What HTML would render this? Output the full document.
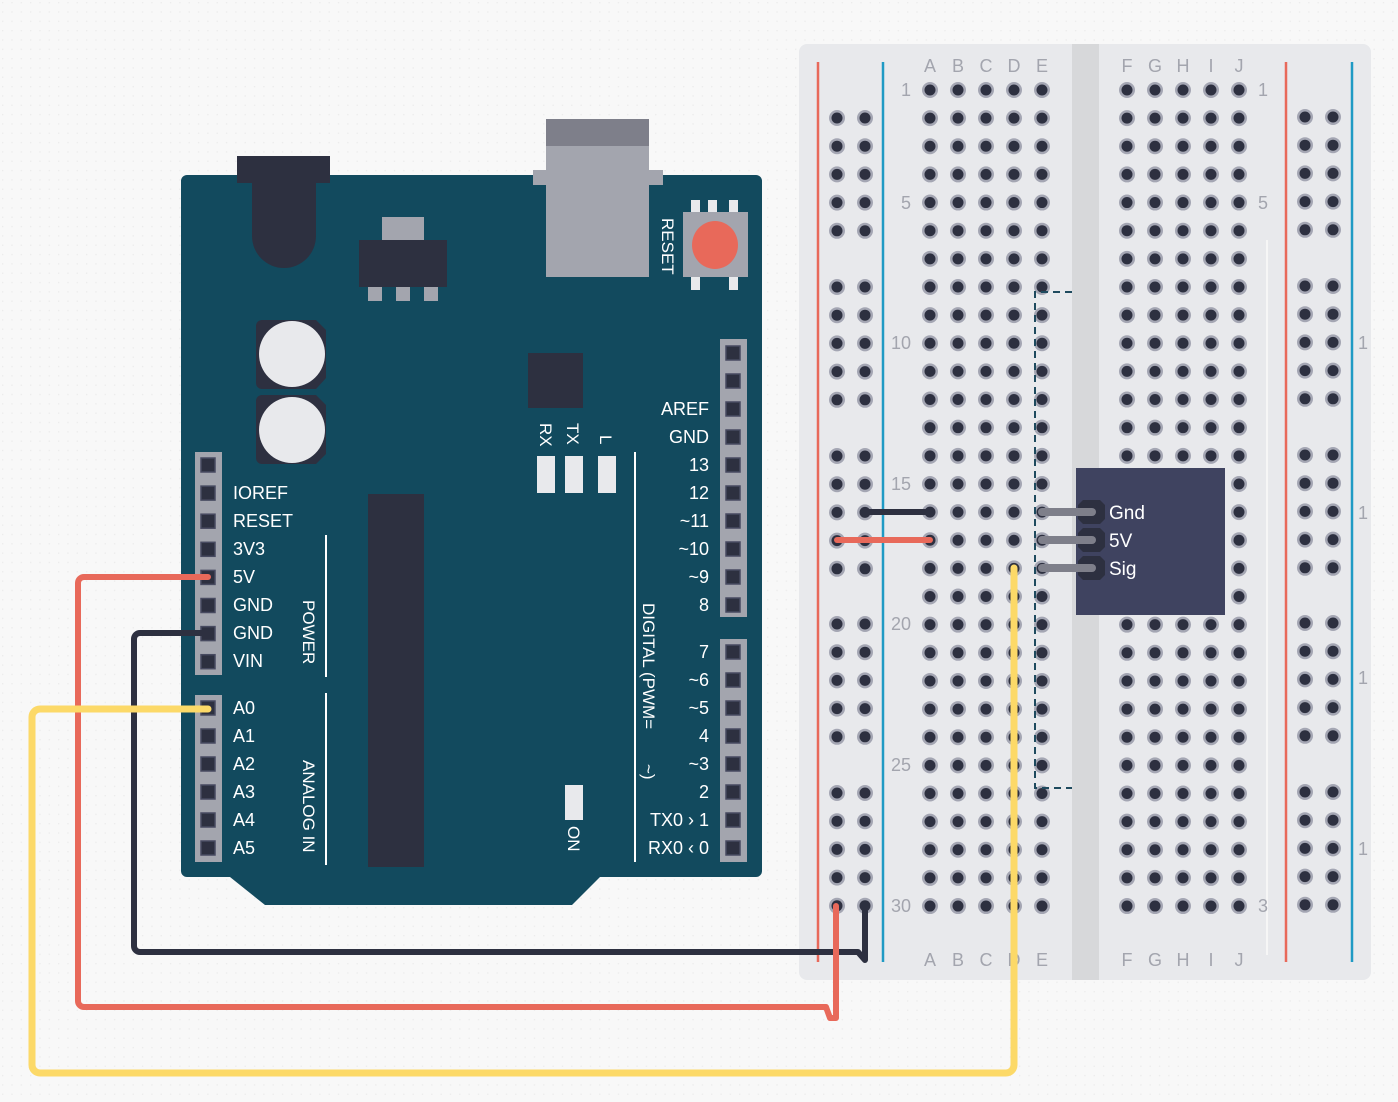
<!DOCTYPE html>
<html><head><meta charset="utf-8"><style>
html,body{margin:0;padding:0;background:#f8f8f8}
svg{display:block}
text{font-family:"Liberation Sans",sans-serif}
</style></head><body>
<svg id="s" width="1398" height="1102" viewBox="0 0 1398 1102" xmlns="http://www.w3.org/2000/svg">
<defs>
<pattern id="dots" width="9.33" height="9.33" patternUnits="userSpaceOnUse"><rect x="2" y="2" width="1.3" height="1.3" fill="#ebebeb"/></pattern>
</defs>
<rect width="1398" height="1102" fill="#f8f8f8"/>
<rect width="1398" height="1102" fill="url(#dots)"/>

<!-- Breadboard -->
<rect x="799" y="44" width="572" height="936" rx="8" fill="#e8e9ec"/>
<rect x="1072" y="44" width="27" height="936" fill="#d7d8da"/>
<line x1="1267" y1="240" x2="1267" y2="955" stroke="#fafafa" stroke-width="1.5"/>
<line x1="818" y1="62" x2="818" y2="962" stroke="#e8695a" stroke-width="2.5"/>
<line x1="883" y1="62" x2="883" y2="962" stroke="#1f9ac4" stroke-width="2.5"/>
<line x1="1286" y1="62" x2="1286" y2="962" stroke="#e8695a" stroke-width="2.5"/>
<line x1="1352" y1="62" x2="1352" y2="962" stroke="#1f9ac4" stroke-width="2.5"/>
<g id="holes"></g>
<g fill="#a3a5ae" font-size="18" text-anchor="middle">
<text x="930" y="72">A</text><text x="958" y="72">B</text><text x="986" y="72">C</text><text x="1014" y="72">D</text><text x="1042" y="72">E</text>
<text x="1127" y="72">F</text><text x="1155" y="72">G</text><text x="1183" y="72">H</text><text x="1211" y="72">I</text><text x="1239" y="72">J</text>
<text x="930" y="966">A</text><text x="958" y="966">B</text><text x="986" y="966">C</text><text x="1014" y="966">D</text><text x="1042" y="966">E</text>
<text x="1127" y="966">F</text><text x="1155" y="966">G</text><text x="1183" y="966">H</text><text x="1211" y="966">I</text><text x="1239" y="966">J</text>
</g>
<g fill="#a3a5ae" font-size="18" text-anchor="end">
<text x="911" y="96">1</text><text x="911" y="209">5</text><text x="911" y="349">10</text><text x="911" y="490">15</text><text x="911" y="630">20</text><text x="911" y="771">25</text><text x="911" y="912">30</text>
</g>
<g fill="#a3a5ae" font-size="18">
<text x="1258" y="96">1</text><text x="1258" y="209">5</text><text x="1258" y="912">3</text>
<text x="1358" y="349">1</text><text x="1358" y="519">1</text><text x="1358" y="684">1</text><text x="1358" y="855">1</text>
</g>

<!-- dashed rect -->
<path d="M1072 292 H1035 V788 H1072" fill="none" stroke="#1e4a5e" stroke-width="2" stroke-dasharray="7,5"/>

<!-- sensor -->
<rect x="1076" y="468" width="149" height="147" fill="#3f4360"/>
<g fill="#2d3040">
<path d="M1083 500 h17 l5 5 v14 l-5 5 h-17 l-5 -5 v-14z"/>
<path d="M1083 528 h17 l5 5 v14 l-5 5 h-17 l-5 -5 v-14z"/>
<path d="M1083 556 h17 l5 5 v14 l-5 5 h-17 l-5 -5 v-14z"/>
</g>
<g stroke="#7e7f8a" stroke-width="8" stroke-linecap="round">
<line x1="1042" y1="512" x2="1092" y2="512"/><line x1="1042" y1="540" x2="1092" y2="540"/><line x1="1042" y1="568" x2="1092" y2="568"/>
</g>
<g fill="#fff" font-size="19"><text x="1109" y="519">Gnd</text><text x="1109" y="547">5V</text><text x="1109" y="575">Sig</text></g>

<!-- Arduino -->
<path d="M187 175 H756 a6 6 0 0 1 6 6 V871 a6 6 0 0 1 -6 6 H600 L572 905 H265 L230 877 H187 a6 6 0 0 1 -6 -6 V181 a6 6 0 0 1 6 -6z" fill="#124a5e"/>
<rect x="237" y="156" width="93" height="27" fill="#2d3040"/>
<path d="M252 183 H316 V236 a32 32 0 0 1 -64 0z" fill="#2d3040"/>
<rect x="533" y="170" width="130" height="15" fill="#a3a5ae"/>
<rect x="546" y="145" width="103" height="132" fill="#a3a5ae"/>
<rect x="546" y="119" width="103" height="27" fill="#7e7f8a"/>
<rect x="382" y="217" width="42" height="23" fill="#a3a5ae"/>
<rect x="359" y="240" width="88" height="47" fill="#2d3040"/>
<g fill="#a3a5ae"><rect x="368" y="287" width="14" height="14"/><rect x="396" y="287" width="14" height="14"/><rect x="424" y="287" width="14" height="14"/></g>
<g fill="#e8e9ec"><rect x="691" y="200" width="9" height="13"/><rect x="708" y="200" width="9" height="13"/><rect x="729" y="200" width="9" height="13"/><rect x="691" y="276" width="9" height="14"/><rect x="729" y="276" width="9" height="14"/></g>
<rect x="683" y="212" width="65" height="65" fill="#a3a5ae"/>
<ellipse cx="715" cy="245" rx="23" ry="24" fill="#e8695a"/>
<text transform="translate(662,218) rotate(90)" fill="#fff" font-size="17">RESET</text>
<path d="M262 320 H316 L326 330 V378 L316 389 H262 a6 6 0 0 1 -6 -6 V326 a6 6 0 0 1 6 -6z" fill="#2d3040"/>
<circle cx="292" cy="354" r="33" fill="#e8e9ec"/>
<path d="M262 395 H316 L326 405 V454 L316 464 H262 a6 6 0 0 1 -6 -6 V401 a6 6 0 0 1 6 -6z" fill="#2d3040"/>
<circle cx="292" cy="430" r="33" fill="#e8e9ec"/>
<rect x="528" y="353" width="55" height="55" fill="#2d3040"/>
<g fill="#fff" font-size="17">
<text transform="translate(540,423) rotate(90)">RX</text>
<text transform="translate(567,423) rotate(90)">TX</text>
<text transform="translate(600,435) rotate(90)">L</text>
<text transform="translate(568,826) rotate(90)">ON</text>
<text transform="translate(643,603) rotate(90)">DIGITAL (PWM=</text>
<text transform="translate(643,764) rotate(90)">~)</text>
<text transform="translate(303,600) rotate(90)">POWER</text>
<text transform="translate(303,760) rotate(90)">ANALOG IN</text>
</g>
<g fill="#e8e9ec"><rect x="537" y="456" width="18" height="37"/><rect x="565" y="456" width="18" height="37"/><rect x="598" y="456" width="18" height="37"/><rect x="565" y="785" width="18" height="35"/></g>
<g stroke="#fff" stroke-width="2"><line x1="635" y1="452" x2="635" y2="862"/><line x1="326" y1="535" x2="326" y2="677"/><line x1="326" y1="693" x2="326" y2="865"/></g>
<rect x="368" y="494" width="56" height="373" fill="#2d3040"/>
<g fill="#a3a5ae"><rect x="195" y="452" width="27" height="223"/><rect x="195" y="695" width="27" height="167"/><rect x="720" y="339" width="27" height="278"/><rect x="720" y="639" width="27" height="223"/></g>
<g id="pins"></g>
<g fill="#fff" font-size="18">
<text x="233" y="499">IOREF</text><text x="233" y="527">RESET</text><text x="233" y="555">3V3</text><text x="233" y="583">5V</text><text x="233" y="611">GND</text><text x="233" y="639">GND</text><text x="233" y="667">VIN</text>
<text x="233" y="714">A0</text><text x="233" y="742">A1</text><text x="233" y="770">A2</text><text x="233" y="798">A3</text><text x="233" y="826">A4</text><text x="233" y="854">A5</text>
</g>
<g fill="#fff" font-size="18" text-anchor="end">
<text x="709" y="415">AREF</text><text x="709" y="443">GND</text><text x="709" y="471">13</text><text x="709" y="499">12</text><text x="709" y="527">~11</text><text x="709" y="555">~10</text><text x="709" y="583">~9</text><text x="709" y="611">8</text>
<text x="709" y="658">7</text><text x="709" y="686">~6</text><text x="709" y="714">~5</text><text x="709" y="742">4</text><text x="709" y="770">~3</text><text x="709" y="798">2</text><text x="709" y="826">TX0 › 1</text><text x="709" y="854">RX0 ‹ 0</text>
</g>

<!-- wires -->
<g fill="none" stroke-linecap="round" stroke-linejoin="round" stroke-width="6">
<path d="M865 512 H930" stroke="#2d3040"/>
<path d="M837 540 H930" stroke="#e8695a"/>
<path d="M208 633 H140 a6 6 0 0 0 -6 6 V946 a6 6 0 0 0 6 6 H858 L865 960 V906" stroke="#2d3040"/>
<path d="M208 577 H84 a6 6 0 0 0 -6 6 V1001 a6 6 0 0 0 6 6 H826 L830 1018 H836 V906" stroke="#e8695a"/>
<path d="M1014 568 V1065 a8 8 0 0 1 -8 8 H40 a8 8 0 0 1 -8 -8 V717 a8 8 0 0 1 8 -8 H208" stroke="#fcd968" stroke-width="7"/>
</g>
</svg>
<script>
var NS="http://www.w3.org/2000/svg";
function c(g,x,y,r,f){var e=document.createElementNS(NS,"circle");e.setAttribute("cx",x);e.setAttribute("cy",y);e.setAttribute("r",r);e.setAttribute("fill",f);g.appendChild(e);}
function hole(g,x,y){c(g,x,y,8,"#a4a6b3");c(g,x,y,5.5,"#2d3040");}
var H=document.getElementById("holes");
var cols=[930,958,986,1014,1042,1127,1155,1183,1211,1239];
for(var r=0;r<30;r++){var y=90+r*28.14;cols.forEach(function(x){hole(H,x,y);});}
var ry=[];[118,287,456,624,793].forEach(function(b){for(var i=0;i<5;i++)ry.push(b+i*28.2);});
ry.forEach(function(y){hole(H,837,y);hole(H,865,y);hole(H,1305,y-1);hole(H,1333,y-1);});
var P=document.getElementById("pins");
function pin(x,y){var e=document.createElementNS(NS,"rect");e.setAttribute("x",x-7);e.setAttribute("y",y-7);e.setAttribute("width",14);e.setAttribute("height",14);e.setAttribute("fill","#2d3040");e.setAttribute("stroke","#474a60");e.setAttribute("stroke-width","1.5");P.appendChild(e);}
for(var i=0;i<8;i++)pin(208,465+i*28.1);
for(var i=0;i<6;i++)pin(208,708+i*28);
for(var i=0;i<10;i++)pin(733,353+i*28);
for(var i=0;i<8;i++)pin(733,652+i*28);
</script>
</body></html>
